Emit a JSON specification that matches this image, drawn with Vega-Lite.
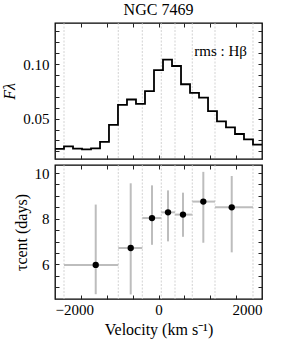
{
  "$schema": "https://vega.github.io/schema/vega-lite/v6.json",
  "padding": {"left": 1, "top": 1, "right": 10, "bottom": 5},
  "background": "white",
  "title": {"text": "NGC 7469", "font": "Liberation Serif, Times New Roman, serif", "fontSize": 16, "fontWeight": "normal", "color": "black", "offset": 4, "frame": "group", "anchor": "middle"},
  "config": {
    "view": {"stroke": "black", "strokeWidth": 1.3},
    "axis": {
      "domain": false, "grid": false, "tickColor": "#222222", "tickWidth": 1, "ticks": true, "tickSize": 4, "offset": -4, "zindex": 2,
      "labelFont": "Liberation Serif, Times New Roman, serif", "labelFontSize": 15, "labelColor": "black",
      "titleFont": "Liberation Serif, Times New Roman, serif", "titleFontSize": 16, "titleFontWeight": "normal", "titleColor": "black"
    }
  },
  "datasets": {
    "hist": [
      {"v": -2000, "f": 0.0222}, {"v": -1826, "f": 0.0246}, {"v": -1652, "f": 0.0225}, {"v": -1478, "f": 0.0219},
      {"v": -1304, "f": 0.0228}, {"v": -1130, "f": 0.0286}, {"v": -957, "f": 0.0443}, {"v": -783, "f": 0.0626},
      {"v": -609, "f": 0.0675}, {"v": -435, "f": 0.0635}, {"v": -261, "f": 0.0751}, {"v": -87, "f": 0.0945},
      {"v": 87, "f": 0.104}, {"v": 261, "f": 0.0982}, {"v": 435, "f": 0.0815}, {"v": 609, "f": 0.0735},
      {"v": 783, "f": 0.0693}, {"v": 957, "f": 0.0568}, {"v": 1130, "f": 0.0474}, {"v": 1304, "f": 0.042},
      {"v": 1478, "f": 0.0359}, {"v": 1652, "f": 0.031}, {"v": 1826, "f": 0.0261}, {"v": 2000, "f": 0.0261}
    ],
    "edges": [{"e": -1826}, {"e": -777}, {"e": -313}, {"e": 54}, {"e": 319}, {"e": 653}, {"e": 1092}, {"e": 1826}],
    "label": [{"t": "rms : Hβ", "x": 1710, "y": 0.1116}],
    "lags": [
      {"vlo": -1826, "vhi": -777, "v": -1213, "tau": 5.98, "tlo": 4.70, "thi": 8.62},
      {"vlo": -777, "vhi": -313, "v": -537, "tau": 6.72, "tlo": 4.69, "thi": 9.55},
      {"vlo": -313, "vhi": 54, "v": -126, "tau": 8.03, "tlo": 6.86, "thi": 9.46},
      {"vlo": 54, "vhi": 319, "v": 184, "tau": 8.28, "tlo": 7.01, "thi": 9.24},
      {"vlo": 319, "vhi": 653, "v": 473, "tau": 8.18, "tlo": 7.21, "thi": 9.14},
      {"vlo": 653, "vhi": 1092, "v": 866, "tau": 8.75, "tlo": 6.95, "thi": 10.05},
      {"vlo": 1092, "vhi": 1826, "v": 1415, "tau": 8.5, "tlo": 6.53, "thi": 9.87}
    ]
  },
  "spacing": 2,
  "vconcat": [
    {
      "width": 207, "height": 136,
      "resolve": {"axis": {"x": "independent", "y": "independent"}},
      "layer": [
        {
          "data": {"name": "edges"},
          "mark": {"type": "rule", "color": "#c8c8c8", "strokeWidth": 0.8, "strokeDash": [2, 1.5]},
          "encoding": {
            "x": {"field": "e", "type": "quantitative", "scale": {"domain": [-2000, 2000], "nice": false, "zero": false}, "axis": null}
          }
        },
        {
          "data": {"name": "hist"},
          "mark": {"type": "line", "interpolate": "step-after", "color": "black", "strokeWidth": 1.8, "clip": true},
          "encoding": {
            "x": {"field": "v", "type": "quantitative", "scale": {"domain": [-2000, 2000], "nice": false, "zero": false},
              "axis": {"orient": "bottom", "title": null, "labels": false,
                "values": [-2000, -1500, -1000, -500, 0, 500, 1000, 1500, 2000]}},
            "y": {"field": "f", "type": "quantitative", "scale": {"domain": [0.013, 0.1376], "nice": false, "zero": false},
              "axis": {"orient": "left", "title": "Fλ", "titleFontStyle": "italic", "titlePadding": 5,
                "values": [0.02, 0.03, 0.04, 0.05, 0.06, 0.07, 0.08, 0.09, 0.10, 0.11, 0.12, 0.13],
                "labelExpr": "round(datum.value*100) % 5 == 0 ? format(datum.value, '.2f') : ''",
                "labelPadding": 6}}
          }
        },
        {
          "data": {"name": "label"},
          "mark": {"type": "text", "align": "right", "baseline": "middle", "font": "Liberation Serif, Times New Roman, serif", "fontSize": 15, "color": "black"},
          "encoding": {
            "text": {"field": "t"},
            "x": {"field": "x", "type": "quantitative", "scale": {"domain": [-2000, 2000], "nice": false, "zero": false},
              "axis": {"orient": "top", "title": null, "labels": false,
                "values": [-2000, -1500, -1000, -500, 0, 500, 1000, 1500, 2000]}},
            "y": {"field": "y", "type": "quantitative", "scale": {"domain": [0.013, 0.1376], "nice": false, "zero": false},
              "axis": {"orient": "right", "title": null, "labels": false,
                "values": [0.02, 0.03, 0.04, 0.05, 0.06, 0.07, 0.08, 0.09, 0.10, 0.11, 0.12, 0.13]}}
          }
        }
      ]
    },
    {
      "width": 207, "height": 134,
      "resolve": {"axis": {"x": "independent", "y": "independent"}},
      "layer": [
        {
          "data": {"name": "edges"},
          "mark": {"type": "rule", "color": "#c8c8c8", "strokeWidth": 0.8, "strokeDash": [2, 1.5]},
          "encoding": {
            "x": {"field": "e", "type": "quantitative", "scale": {"domain": [-2000, 2000], "nice": false, "zero": false}, "axis": null}
          }
        },
        {
          "data": {"name": "lags"},
          "mark": {"type": "rule", "color": "#bdbdbd", "strokeWidth": 2},
          "encoding": {
            "x": {"field": "vlo", "type": "quantitative", "scale": {"domain": [-2000, 2000], "nice": false, "zero": false},
              "axis": {"orient": "top", "title": null, "labels": false,
                "values": [-2000, -1500, -1000, -500, 0, 500, 1000, 1500, 2000]}},
            "x2": {"field": "vhi"},
            "y": {"field": "tau", "type": "quantitative", "scale": {"domain": [4.49, 10.35], "nice": false, "zero": false},
              "axis": {"orient": "right", "title": null, "labels": false,
                "values": [5, 5.5, 6, 6.5, 7, 7.5, 8, 8.5, 9, 9.5, 10]}}
          }
        },
        {
          "data": {"name": "lags"},
          "mark": {"type": "rule", "color": "#bdbdbd", "strokeWidth": 2},
          "encoding": {
            "x": {"field": "v", "type": "quantitative", "scale": {"domain": [-2000, 2000], "nice": false, "zero": false}, "axis": null},
            "y": {"field": "tlo", "type": "quantitative", "scale": {"domain": [4.49, 10.35], "nice": false, "zero": false}, "axis": null},
            "y2": {"field": "thi"}
          }
        },
        {
          "data": {"name": "lags"},
          "mark": {"type": "point", "filled": true, "color": "black", "opacity": 1, "size": 40},
          "encoding": {
            "x": {"field": "v", "type": "quantitative", "scale": {"domain": [-2000, 2000], "nice": false, "zero": false},
              "axis": {"orient": "bottom", "title": "Velocity (km s⁻¹)", "titlePadding": 4, "labelPadding": 3,
                "values": [-2000, -1500, -1000, -500, 0, 500, 1000, 1500, 2000],
                "labelExpr": "datum.value % 2000 == 0 ? format(datum.value, 'd') : ''"}},
            "y": {"field": "tau", "type": "quantitative", "scale": {"domain": [4.49, 10.35], "nice": false, "zero": false},
              "axis": {"orient": "left", "title": "τcent (days)", "titlePadding": 5, "labelPadding": 6,
                "values": [5, 5.5, 6, 6.5, 7, 7.5, 8, 8.5, 9, 9.5, 10],
                "labelExpr": "datum.value % 2 == 0 ? format(datum.value, 'd') : ''"}}
          }
        }
      ]
    }
  ]
}
